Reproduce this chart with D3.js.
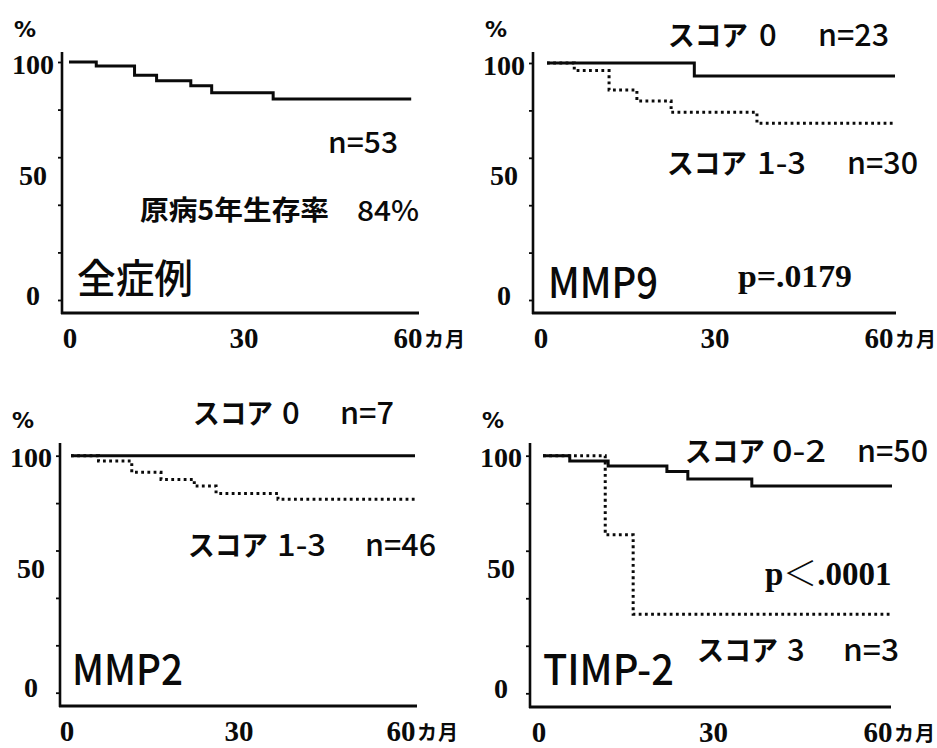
<!DOCTYPE html>
<html><head><meta charset="utf-8">
<script src="https://cdn.jsdelivr.net/npm/d3@7"></script>
<style>
body{margin:0;background:#fff}
svg{display:block}
.sans{font-family:"Noto Sans CJK JP","Noto Sans",sans-serif}
.serif{font-family:"Liberation Serif","DejaVu Serif",serif;font-weight:bold}
</style>
</head><body><svg id="c" width="937" height="748"></svg>
<script>
// ---------------- data ----------------
const yTicks = [0, 20, 40, 60, 80, 100];
const yTickLabels = [0, 50, 100];
const xTickLabels = [0, 30, 60];
const xUnit = "カ月";
const yUnit = "%";

// Panel 1: 全症例 (all cases, n=53)
const allMonths = [0, 4.7, 11.3, 15.1, 21.0, 24.6, 35.2, 59];
const allSurv   = [100, 98.3, 94.4, 92.1, 90.0, 87.1, 84.5, 84.5];

// Panel 2: MMP9
const mmp9S0Months  = [0, 25.4, 60];
const mmp9S0Surv    = [100, 94.5, 94.5];
const mmp9S13Months = [0, 4.7, 10.7, 15.5, 21.4, 36.2, 60];
const mmp9S13Surv   = [100, 96.8, 88.6, 84.0, 79.2, 74.6, 74.6];

// Panel 3: MMP2
const mmp2S0Months  = [0, 60];
const mmp2S0Surv    = [100, 100];
const mmp2S13Months = [0, 4.8, 10.6, 15.7, 21.5, 25.3, 36.1, 60];
const mmp2S13Surv   = [100, 97.8, 93.0, 90.0, 87.2, 84.1, 81.6, 81.6];

// Panel 4: TIMP-2
const timpS02Months = [0, 4.6, 11.2, 21.3, 24.9, 35.9, 60];
const timpS02Surv   = [100, 97.8, 95.7, 93.3, 90.2, 87.3, 87.3];
const timpS3Months  = [0, 10.7, 15.5, 60];
const timpS3Surv    = [100, 66.7, 33.3, 33.3];

// ---------------- layout ----------------
const panels = [
  { ax: 62, top: 52, bottom: 313, right: 419, xr: [69, 417], yr: [300, 62], xlShift: 5,
    series: [{ m: allMonths, s: allSurv, dotted: false }],
    labels: [
      { t: "n=53", x: 328, y: 153, size: 29, len: 70, w: 500 },
      { t: "原病5年生存率", x: 140, y: 220, size: 27, len: 189, w: 700 },
      { t: "84%", x: 357, y: 221, size: 28, len: 62, w: 500 },
      { t: "全症例", x: 77, y: 293, size: 40, len: 116, w: 500 }
    ] },
  { ax: 533, top: 52, bottom: 313, right: 896, xr: [547, 895], yr: [300, 63], xlShift: -2,
    series: [{ m: mmp9S0Months, s: mmp9S0Surv, dotted: false },
             { m: mmp9S13Months, s: mmp9S13Surv, dotted: true }],
    labels: [
      { t: "スコア", x: 668, y: 46, size: 28, len: 80, w: 700 },
      { t: "0", x: 759, y: 46, size: 31, w: 500 },
      { t: "n=23", x: 818, y: 46, size: 30, len: 71, w: 500 },
      { t: "スコア", x: 667, y: 174, size: 28, len: 80, w: 700 },
      { t: "1-3", x: 757, y: 174, size: 30, len: 49, w: 500 },
      { t: "n=30", x: 847, y: 174, size: 30, len: 71, w: 500 },
      { t: "MMP9", x: 548, y: 298, size: 42, len: 110, w: 500 },
      { t: "p=.0179", x: 738, y: 287, size: 31, len: 114, serif: true }
    ] },
  { ax: 60, top: 443, bottom: 706, right: 417, xr: [71, 415], yr: [692.7, 455.7], xlShift: 0,
    series: [{ m: mmp2S0Months, s: mmp2S0Surv, dotted: false },
             { m: mmp2S13Months, s: mmp2S13Surv, dotted: true }],
    labels: [
      { t: "スコア", x: 193, y: 424, size: 28, len: 80, w: 700 },
      { t: "0", x: 282, y: 424, size: 31, w: 500 },
      { t: "n=7", x: 340, y: 424, size: 30, len: 54, w: 500 },
      { t: "スコア", x: 188, y: 556, size: 28, len: 80, w: 700 },
      { t: "1-3", x: 277, y: 556, size: 30, len: 49, w: 500 },
      { t: "n=46", x: 365, y: 556, size: 30, len: 71, w: 500 },
      { t: "MMP2", x: 72, y: 685, size: 42, len: 111, w: 500 }
    ] },
  { ax: 530, top: 443, bottom: 707, right: 891, xr: [543, 892], yr: [693.3, 455.7], xlShift: 0,
    series: [{ m: timpS02Months, s: timpS02Surv, dotted: false },
             { m: timpS3Months, s: timpS3Surv, dotted: true }],
    labels: [
      { t: "スコア", x: 685, y: 462, size: 28, len: 80, w: 700 },
      { t: "0-2", x: 772, y: 462, size: 30, len: 54, w: 500 },
      { t: "n=50", x: 857, y: 462, size: 30, len: 71, w: 500 },
      { t: "スコア", x: 697, y: 661, size: 28, len: 81, w: 700 },
      { t: "3", x: 787, y: 661, size: 31, w: 500 },
      { t: "n=3", x: 843, y: 661, size: 30, len: 56, w: 500 },
      { t: "TIMP-2", x: 543, y: 685, size: 42, len: 131, w: 500 }
    ],
    pLt: { x: 765, y: 585 } }
];
const yLabelOffset = { 0: -5, 50: -6, 100: 2 };
const xLabelOffset = { 0: -4, 30: -4, 60: -14 };

// ---------------- draw ----------------
const svg = d3.select("#c");
const ink = "#0a0a0a";

panels.forEach(p => {
  const g = svg.append("g");
  const x = d3.scaleLinear().domain([0, 60]).range(p.xr);
  const y = d3.scaleLinear().domain([0, 100]).range(p.yr);

  // y ticks
  const ya = g.append("g").attr("transform", `translate(${p.ax},0)`)
    .call(d3.axisLeft(y).tickValues(yTicks).tickSize(4).tickFormat(""));
  ya.select(".domain").remove();
  ya.selectAll(".tick line").attr("stroke", ink).attr("stroke-width", 1.8);

  // axis lines
  g.append("line").attr("x1", p.ax).attr("x2", p.ax).attr("y1", p.top).attr("y2", p.bottom + 1)
    .attr("stroke", ink).attr("stroke-width", 2.6);
  g.append("line").attr("x1", p.ax - 1).attr("x2", p.right).attr("y1", p.bottom).attr("y2", p.bottom)
    .attr("stroke", ink).attr("stroke-width", 3);

  // y tick labels
  g.selectAll(".yl").data(yTickLabels).enter().append("text")
    .attr("class", "serif")
    .attr("x", p.ax - 29).attr("y", d => y(d) + yLabelOffset[d])
    .attr("text-anchor", "middle").attr("dominant-baseline", "central")
    .attr("font-size", 28).attr("fill", ink)
    .text(d => d);

  // % unit
  g.append("text").attr("x", p.ax - 48).attr("y", p.top - 15)
    .attr("font-family", "DejaVu Sans").attr("font-weight", "bold")
    .attr("font-size", 22).attr("fill", ink).text(yUnit);

  // x tick labels
  g.selectAll(".xl").data(xTickLabels).enter().append("text")
    .attr("class", "serif")
    .attr("x", d => x(d) + xLabelOffset[d] + p.xlShift).attr("y", p.bottom + 35)
    .attr("text-anchor", "middle").attr("font-size", 29).attr("fill", ink)
    .text(d => d);
  g.append("text").attr("class", "sans")
    .attr("x", x(60) + xLabelOffset[60] + p.xlShift + 16).attr("y", p.bottom + 34)
    .attr("font-size", 20).attr("font-weight", 700).attr("letter-spacing", 1)
    .attr("fill", ink).text(xUnit);

  // survival curves
  const line = d3.line().curve(d3.curveStepAfter).x(d => x(d[0])).y(d => y(d[1]));
  p.series.slice().sort((a, b) => b.dotted - a.dotted).forEach(s => {
    const pts = s.m.map((m, i) => [m, s.s[i]]);
    const path = g.append("path").attr("d", line(pts)).attr("fill", "none")
      .attr("stroke", ink);
    if (s.dotted) path.attr("stroke-width", 3).attr("stroke-dasharray", "2.8 3.4");
    else path.attr("stroke-width", 3);
  });

  // annotations
  p.labels.forEach(l => {
    const t = g.append("text").attr("x", l.x).attr("y", l.y)
      .attr("class", l.serif ? "serif" : "sans")
      .attr("font-size", l.size).attr("fill", ink).text(l.t);
    if (!l.serif) t.attr("font-weight", l.w);
    if (l.len) t.attr("textLength", l.len).attr("lengthAdjust", "spacingAndGlyphs");
  });

  // p < .0001 with full-width bracket
  if (p.pLt) {
    const t = g.append("text").attr("x", p.pLt.x).attr("y", p.pLt.y).attr("fill", ink);
    t.append("tspan").attr("class", "serif").attr("font-size", 33).text("p");
    t.append("tspan").attr("class", "sans").attr("font-size", 34).attr("font-weight", 300)
      .attr("dy", 1).text("＜");
    t.append("tspan").attr("class", "serif").attr("font-size", 33)
      .attr("dy", -1).text(".0001");
  }
});
</script>
</body></html>
